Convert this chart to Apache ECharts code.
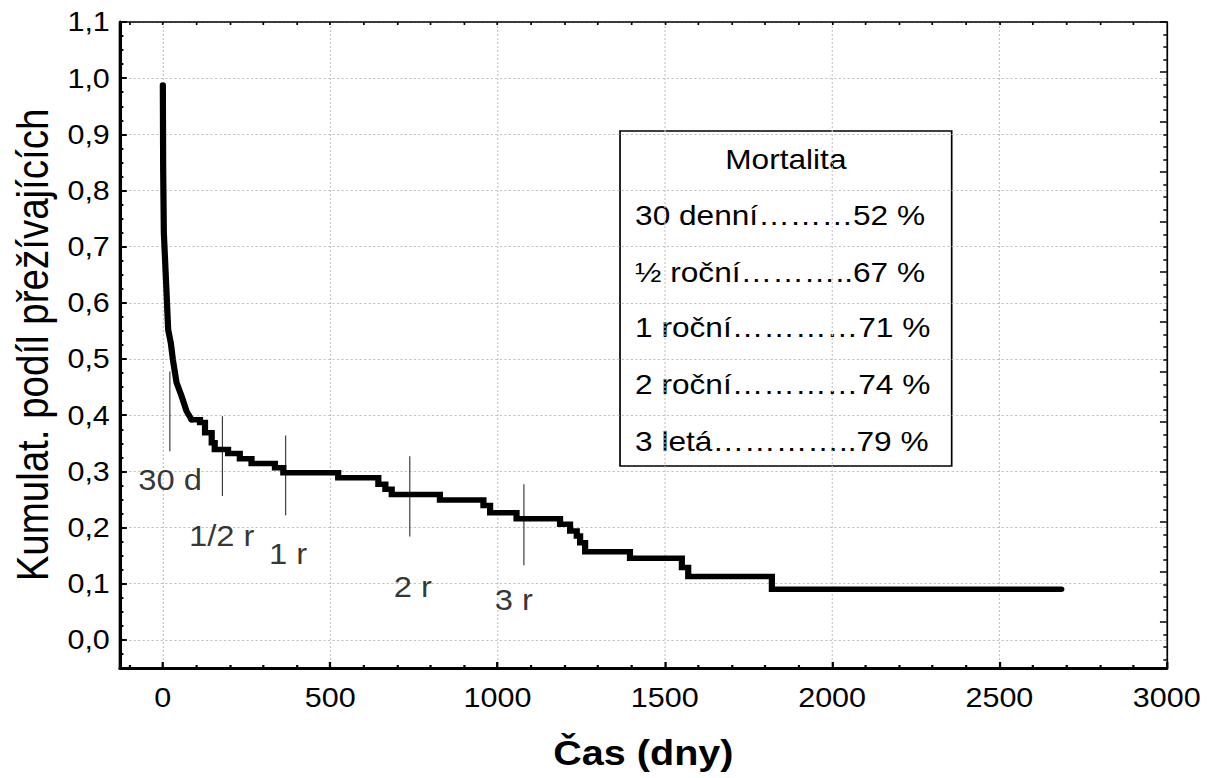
<!DOCTYPE html>
<html><head><meta charset="utf-8">
<script src="https://cdn.jsdelivr.net/npm/echarts@6/dist/echarts.min.js"></script>
<style>
html,body{margin:0;padding:0;background:#fff;overflow:hidden}
#chart{width:1070px;height:778px;transform:scaleX(1.13);transform-origin:0 0}
</style>
</head><body><div id="chart"></div>
<script>
// Kaplan-Meier curve (time in days, cumulative survival)
// early part: dense events drawn as a continuous descending line
const earlyTimes = [0, 1, 3, 8, 16, 24, 30, 41, 56, 71, 86];
const earlySurv = [0.988, 0.837, 0.725, 0.659, 0.552, 0.528, 0.499, 0.458, 0.434, 0.407, 0.392];
// later part: distinct steps
const times = [86, 111, 126, 146, 155, 195, 230, 265, 335, 360, 524, 644, 665, 684, 828, 958, 978, 1057, 1187, 1217, 1237, 1247, 1262, 1396, 1551, 1570, 1820, 2685];
const survival = [0.392, 0.387, 0.369, 0.351, 0.339, 0.332, 0.3225, 0.314, 0.3065, 0.2977, 0.2888, 0.277, 0.268, 0.259, 0.249, 0.2395, 0.2265, 0.2159, 0.2057, 0.194, 0.185, 0.173, 0.157, 0.1453, 0.129, 0.1127, 0.0903, 0.0903];

// vertical marker lines (30 d, 1/2 r, 1 r, 2 r, 3 r)
const markerTimes = [21, 178, 367, 738, 1079];
const markerTop = [0.478, 0.398, 0.364, 0.327, 0.277];
const markerBottom = [0.336, 0.256, 0.222, 0.184, 0.133];
const markerLabels = ['30 d', '1/2 r', '1 r', '2 r', '3 r'];
const labelTimes = [22, 176, 374, 747, 1049];
const labelSurv = [0.284, 0.184, 0.152, 0.094, 0.071];

// legend box text
const mortalityTitle = 'Mortalita';
const mortalityLines = ['30 denní\u2026\u2026\u202652 %', '\u00bd roční\u2026\u2026\u2026..67 %', '1 roční\u2026\u2026\u2026\u202671 %', '2 roční\u2026\u2026\u2026\u202674 %', '3 letá\u2026\u2026\u2026\u2026..79 %'];

// axis ticks
const xTickValues = [0, 500, 1000, 1500, 2000, 2500, 3000];
const yTickValues = [0, 0.1, 0.2, 0.3, 0.4, 0.5, 0.6, 0.7, 0.8, 0.9, 1.0, 1.1];
const xMin = -128, xMax = 3000, yMin = -0.05, yMax = 1.1;

const xMinorValues = [];
for (let v = -100; v < 3000; v += 100) if (v % 500 !== 0) xMinorValues.push(v);
const xTopValues = [];
for (let v = -100; v < 3000; v += 100) xTopValues.push(v);
const yMinorValues = [];
for (let k = -1; k < 44; k++) if (k % 4 !== 0) yMinorValues.push(k * 0.025);
const rightMajor = [], rightMinor = [];
for (let k = 0; k * 12.5 < 646; k++) (k % 4 === 0 ? rightMajor : rightMinor).push(k * 12.5);

const font = "'Liberation Sans', Arial, Helvetica, sans-serif";
const grid = {color: '#c4c4c4', type: [2, 2], width: 1};

function hiddenAxis(extra) {
  return Object.assign({
    type: 'value', axisLabel: {show: false}, splitLine: {show: false}
  }, extra);
}

const chart = echarts.init(document.getElementById('chart'), null, {renderer: 'svg'});

const curveStyle = {color: '#000', width: 5.5, cap: 'round', join: 'miter'};
const series = [{
  type: 'line', symbol: 'none', silent: true, z: 5,
  data: earlyTimes.map((t, i) => [t, earlySurv[i]]),
  lineStyle: curveStyle
}, {
  type: 'line', step: 'end', symbol: 'none', silent: true, z: 5,
  data: times.map((t, i) => [t, survival[i]]),
  lineStyle: curveStyle
}];
markerTimes.forEach((t, i) => series.push({
  type: 'line', symbol: 'none', silent: true, z: 4,
  data: [[t, markerTop[i]], [t, markerBottom[i]]],
  lineStyle: {color: '#333', width: 1}
}));
series.push({
  type: 'scatter', symbolSize: 1, silent: true, itemStyle: {color: 'transparent'},
  data: labelTimes.map((t, i) => ({value: [t, labelSurv[i]], name: markerLabels[i]})),
  label: {show: true, position: 'inside', formatter: '{b}', color: '#000', fontSize: 29, fontFamily: font}
});

const boxChildren = [{
  type: 'rect', shape: {x: 0, y: 0, width: 293.5, height: 335},
  style: {fill: '#fff', stroke: '#000', lineWidth: 1.5}
}, {
  type: 'text', x: 146.75, y: 28,
  style: {text: mortalityTitle, fontSize: 28, fontFamily: font, fill: '#000', align: 'center', verticalAlign: 'middle'}
}];
const lineY = [84, 141, 196, 253, 310];
mortalityLines.forEach((s, i) => boxChildren.push({
  type: 'text', x: 13.3, y: lineY[i],
  style: {text: s, fontSize: 28, fontFamily: font, fill: '#000', align: 'left', verticalAlign: 'middle'}
}));

chart.setOption({
  animation: false,
  backgroundColor: '#fff',
  grid: {left: 106.2, right: 37.5, top: 22, bottom: 110},
  xAxis: [{
    type: 'value', min: xMin, max: xMax, position: 'bottom',
    axisLine: {show: true, onZero: false, lineStyle: {color: '#000', width: 3}},
    axisTick: {show: true, inside: true, length: 6, customValues: xTickValues, lineStyle: {color: '#000', width: 2}},
    axisLabel: {customValues: xTickValues, formatter: v => String(v), margin: 16, color: '#000', fontSize: 27, fontFamily: font},
    splitLine: {show: true, lineStyle: grid},
    name: 'Čas (dny)', nameLocation: 'middle', nameGap: 67,
    nameTextStyle: {fontSize: 35, fontWeight: 'bold', color: '#000', fontFamily: font}
  }, hiddenAxis({
    min: xMin, max: xMax, position: 'bottom',
    axisLine: {show: false, onZero: false},
    axisTick: {show: true, inside: true, length: 3, customValues: xMinorValues, lineStyle: {color: '#000', width: 2}}
  }), hiddenAxis({
    min: xMin, max: xMax, position: 'top',
    axisLine: {show: true, onZero: false, lineStyle: {color: '#000', width: 1.5}},
    axisTick: {show: true, inside: true, length: 3, customValues: xTopValues, lineStyle: {color: '#000', width: 1.5}}
  })],
  yAxis: [{
    type: 'value', min: yMin, max: yMax, position: 'left',
    axisLine: {show: true, onZero: false, lineStyle: {color: '#000', width: 3}},
    axisTick: {show: true, inside: true, length: 6, customValues: yTickValues, lineStyle: {color: '#000', width: 2}},
    axisLabel: {customValues: yTickValues, formatter: v => v.toFixed(1).replace('.', ','), margin: 9, color: '#000', fontSize: 27, fontFamily: font},
    splitLine: {show: true, lineStyle: grid},
    name: 'Kumulat. podíl přežívajících', nameLocation: 'middle', nameGap: 57, nameRotate: 90,
    nameTextStyle: {fontSize: 38.5, color: '#000', fontFamily: font}
  }, hiddenAxis({
    min: yMin, max: yMax, position: 'left',
    axisLine: {show: false, onZero: false},
    axisTick: {show: true, inside: true, length: 3, customValues: yMinorValues, lineStyle: {color: '#000', width: 2}}
  }), hiddenAxis({
    min: 0, max: 646, inverse: true, position: 'right',
    axisLine: {show: true, onZero: false, lineStyle: {color: '#000', width: 1.5}},
    axisTick: {show: true, inside: true, length: 6, customValues: rightMajor, lineStyle: {color: '#000', width: 1.5}}
  }), hiddenAxis({
    min: 0, max: 646, inverse: true, position: 'right',
    axisLine: {show: false, onZero: false},
    axisTick: {show: true, inside: true, length: 3, customValues: rightMinor, lineStyle: {color: '#000', width: 1.5}}
  })],
  graphic: [{type: 'group', x: 548.7, y: 131, z: 100, children: boxChildren}],
  series: series
});
</script>
</body></html>
